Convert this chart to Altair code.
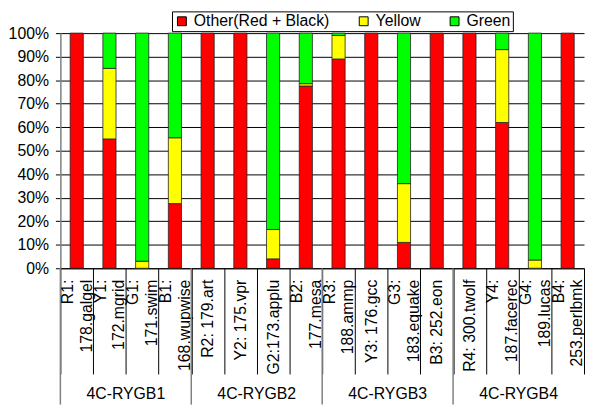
import altair as alt
import pandas as pd

# ---- data ----
benches = ["R1:|178.galgel", "Y1:|172.mgrid", "G1:|171.swim", "B1:|168.wupwise",
           "R2: 179.art", "Y2: 175.vpr", "G2:173.applu", "B2:|177.mesa",
           "R3:|188.ammp", "Y3: 176.gcc", "G3:|183.equake", "B3: 252.eon",
           "R4: 300.twolf", "Y4:|187.facerec", "G4:|189.lucas", "B4:|253.perlbmk"]
groups = ["4C-RYGB1", "4C-RYGB2", "4C-RYGB3", "4C-RYGB4"]
red = [100, 55, 0, 27.5, 100, 100, 4, 77.5, 89, 100, 11, 100, 100, 62, 0, 100]
yellow = [0, 30, 3, 28, 0, 0, 12.5, 1, 10, 0, 25, 0, 0, 31, 3.5, 0]
green = [0, 15, 97, 44.5, 0, 0, 83.5, 21.5, 1, 0, 64, 0, 0, 7, 96.5, 0]
series = ["Other(Red + Black)", "Yellow", "Green"]
colors = ["#FF0000", "#FFFF00", "#00FF00"]
y_ticks = [0, 10, 20, 30, 40, 50, 60, 70, 80, 90, 100]

rows = []
for i, b in enumerate(benches):
    for k, (s, vals) in enumerate(zip(series, [red, yellow, green])):
        if vals[i] > 0:
            rows.append({"bench": b, "series": s, "order": k, "value": vals[i]})
bars_df = pd.DataFrame(rows)

per = len(benches) // len(groups)
sep_df = pd.DataFrame({"bench": [benches[g * per] for g in range(len(groups))]})
lab_df = pd.DataFrame({"bench": [benches[g * per + per // 2 - 1] for g in range(len(groups))],
                       "group": groups})

W, H = 530, 238
FONT = "Liberation Sans"

xenc = alt.X("bench:N", sort=benches,
             scale=alt.Scale(paddingInner=0, paddingOuter=0),
             axis=alt.Axis(title=None, labelAngle=270, labelAlign="right",
                           labelBaseline="middle",
                           labelExpr="isString(datum.value) ? split(datum.value, '|') : ''",
                           labelOffset={"condition": {
                               "test": "isString(datum.value) && indexof(datum.value, '|') >= 0",
                               "value": -9.5},
                               "value": 0},
                           labelLineHeight=19, labelFontSize=16, labelColor="black",
                           labelFont=FONT, labelOverlap=False, labelPadding=-96,
                           labelLimit=200,
                           ticks=True, tickSize=107, tickBand="extent",
                           tickColor="black", tickWidth=1,
                           domainColor="black", domainWidth=1, grid=False))

bars = alt.Chart(bars_df).mark_bar(size=13.3, stroke="#222222", strokeWidth=0.8).encode(
    x=xenc,
    y=alt.Y("value:Q", stack="zero",
            scale=alt.Scale(domain=[0, 100], nice=False),
            axis=alt.Axis(title=None, values=y_ticks, labelExpr="datum.value + '%'",
                          labelFontSize=16, labelColor="black", labelFont=FONT,
                          labelPadding=7, tickSize=5, tickColor="black",
                          domainColor="#808080", domainWidth=1.5,
                          grid=True, gridColor="black", gridWidth=1, gridOpacity=1)),
    color=alt.Color("series:N", sort=series,
                    scale=alt.Scale(domain=series, range=colors),
                    legend=alt.Legend(title=None, orient="none", direction="horizontal",
                                      legendX=113, legendY=-22,
                                      symbolType="square", symbolSize=81,
                                      symbolStrokeColor="black", symbolStrokeWidth=1,
                                      labelFontSize=16, labelFont=FONT, labelColor="black",
                                      labelOffset=4, columnPadding=26,
                                      strokeColor="black", fillColor="white",
                                      padding=2)),
    order=alt.Order("order:Q"),
)

seps = alt.Chart(sep_df).mark_rule(color="#808080", strokeWidth=1.5).encode(
    x=alt.X("bench:N", sort=benches, bandPosition=0),
    y=alt.value(H),
    y2=alt.value(H + 138),
)

glabels = alt.Chart(lab_df).mark_text(fontSize=16, font=FONT, color="black",
                                      baseline="middle", align="center").encode(
    x=alt.X("bench:N", sort=benches, bandPosition=1),
    y=alt.value(H + 127),
    text="group:N",
)

chart = alt.layer(bars, seps, glabels).properties(
    width=W, height=H,
    padding={"left": 0, "top": 0, "right": 0, "bottom": 0},
).configure_view(strokeWidth=0)

chart.save("out.html", embed_options={"renderer": "svg", "actions": False})
